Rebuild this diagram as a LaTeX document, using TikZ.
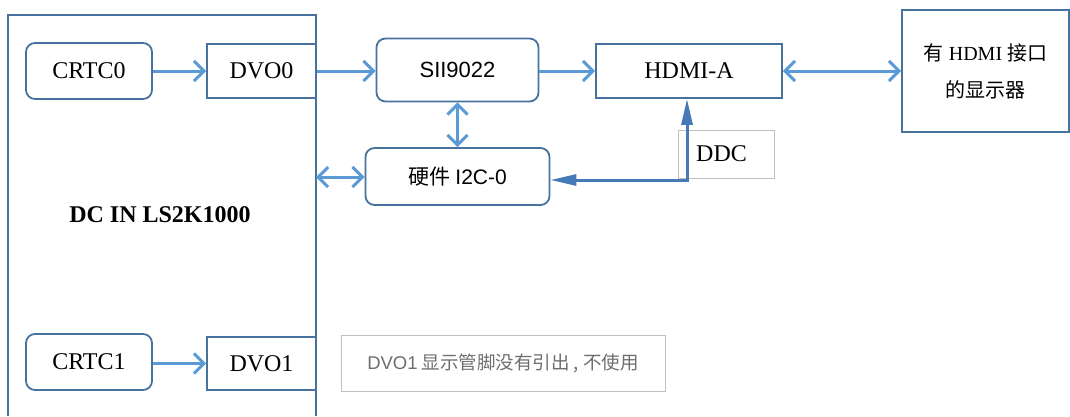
\documentclass[tikz,border=0pt]{standalone}
\usepackage{fontspec}
\setmainfont{Liberation Serif}
\newfontfamily\cjk{Noto Sans CJK SC}
\newfontfamily\lsans{Liberation Sans}
\usetikzlibrary{arrows.meta}
\definecolor{boxc}{RGB}{72,114,158}
\definecolor{arrc}{RGB}{91,155,213}
\definecolor{ddccol}{RGB}{70,122,182}
\definecolor{graytxt}{RGB}{110,110,110}
\definecolor{grayln}{RGB}{192,192,192}
\tikzset{
  blk/.style={draw=boxc, line width=1.8pt, inner sep=0pt, align=center, font=\fontsize{24}{28}\selectfont},
  rblk/.style={blk, rounded corners=9pt},
  arr/.style={draw=arrc, line width=3pt, -{Straight Barb[length=10pt,width=20pt]}},
  dbl/.style={draw=arrc, line width=3pt, {Straight Barb[length=10pt,width=20pt]}-{Straight Barb[length=10pt,width=20pt]}},
  ddcline/.style={draw=ddccol, line width=3pt, {Triangle[length=26pt,width=11pt]}-{Triangle[length=26pt,width=11pt]}},
  graybox/.style={draw=grayln, line width=0.9pt, inner sep=0pt}
}
\begin{document}
\begin{tikzpicture}[x=1pt,y=-1pt]
\useasboundingbox (0,0) rectangle (1070,416);
% big container
\draw[draw=boxc, line width=1.8pt] (8,416) -- (8,15) -- (316,15) -- (316,416);
\node[font=\bfseries\fontsize{24}{26}\selectfont] (dclabel) at (160,215) {DC IN LS2K1000};
\coordinate (dcR) at (316,177);
% nodes
\node[rblk, minimum width=126pt, minimum height=56pt] (crtc0) at (89,71) {CRTC0};
\node[blk, minimum width=109pt, minimum height=54pt] (dvo0) at (261.5,71) {DVO0};
\node[rblk, minimum width=162pt, minimum height=63pt, font=\lsans\fontsize{22}{26}\selectfont] (sii) at (457.5,70) {SII9022};
\node[blk, minimum width=186pt, minimum height=54pt] (hdmi) at (689,71) {HDMI-A};
\node[blk, minimum width=167pt, minimum height=122pt, font=\fontsize{20}{37}\selectfont] (disp) at (985.5,71) {\raisebox{-3pt}{{\cjk 有} HDMI {\cjk 接口}}\\\raisebox{-3pt}{\cjk 的显示器}};
\node[rblk, minimum width=184pt, minimum height=57pt, font=\fontsize{21}{26}\selectfont] (i2c) at (457.5,176.5) {{\cjk 硬件} {\lsans I2C-0}};
\node[graybox, minimum width=96pt, minimum height=48pt, font=\fontsize{24}{28}\selectfont] (ddc) at (726,154) {DDC\hspace*{9pt}};
\node[rblk, minimum width=126pt, minimum height=56pt] (crtc1) at (89,362) {CRTC1};
\node[blk, minimum width=109pt, minimum height=53pt] (dvo1) at (261.5,363.5) {DVO1};
\node[graybox, minimum width=324pt, minimum height=56pt, text=graytxt, font=\cjk\fontsize{18.5}{22}\selectfont] (note) at (503,363) {{\lsans DVO1} 显示管脚没有引出 , 不使用};
% connectors
\draw[arr] (crtc0.east) -- (dvo0.west);
\draw[arr] (dvo0.east) -- (dvo0.east -| sii.west);
\draw[arr] (sii.east |- hdmi.west) -- (hdmi.west);
\draw[dbl] (hdmi.east) -- (disp.west);
\draw[dbl] (sii.south) -- (i2c.north);
\draw[dbl] (dcR) -- (dcR -| i2c.west);
\coordinate (ddcK) at (687,180);
\draw[ddcline] (hdmi.south -| ddcK) -- (ddcK) -- (ddcK -| i2c.east);
\draw[arr] (crtc1.east |- dvo1.west) -- (dvo1.west);
\end{tikzpicture}
\end{document}
